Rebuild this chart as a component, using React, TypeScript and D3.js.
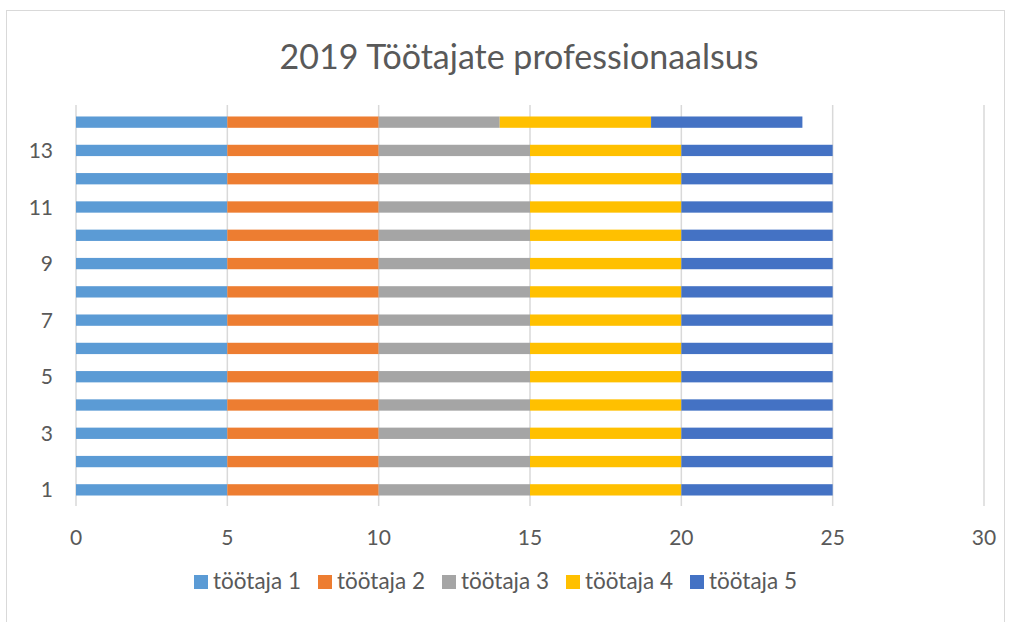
import React, { useEffect, useRef } from "react";
import * as d3 from "d3";

const CATEGORIES = ["1", "2", "3", "4", "5", "6", "7", "8", "9", "10", "11", "12", "13", "14"];
const SERIES = ["töötaja 1", "töötaja 2", "töötaja 3", "töötaja 4", "töötaja 5"];
const COLORS = ["#5B9BD5", "#ED7D31", "#A5A5A5", "#FFC000", "#4472C4"];
// values per category, one column per employee
const T1 = [5, 5, 5, 5, 5, 5, 5, 5, 5, 5, 5, 5, 5, 5];
const T2 = [5, 5, 5, 5, 5, 5, 5, 5, 5, 5, 5, 5, 5, 5];
const T3 = [5, 5, 5, 5, 5, 5, 5, 5, 5, 5, 5, 5, 5, 4];
const T4 = [5, 5, 5, 5, 5, 5, 5, 5, 5, 5, 5, 5, 5, 5];
const T5 = [5, 5, 5, 5, 5, 5, 5, 5, 5, 5, 5, 5, 5, 5];
const X_TICKS = [0, 5, 10, 15, 20, 25, 30];

const FONT = "Lato, 'Open Sans', sans-serif";
const TEXT = "#595959";

export default function App() {
  const ref = useRef<SVGSVGElement | null>(null);

  useEffect(() => {
    const svg = d3.select(ref.current);
    svg.selectAll("*").remove();

    // chart frame
    svg.append("rect").attr("x", 6.5).attr("y", 10.5).attr("width", 998).attr("height", 640)
      .attr("fill", "#fff").attr("stroke", "#D9D9D9");

    svg.append("text").attr("x", 519).attr("y", 69).attr("text-anchor", "middle")
      .attr("font-family", FONT).attr("font-size", 34).attr("fill", TEXT)
      .text("2019 Töötajate professionaalsus");

    const x = d3.scaleLinear().domain([0, 30]).range([76, 984]);
    const y = d3.scaleBand<string>().domain([...CATEGORIES].reverse()).range([108, 504]).paddingInner(0.6).paddingOuter(0.3);

    const rows = CATEGORIES.map((c, i) => {
      const r: any = { cat: c };
      [T1, T2, T3, T4, T5].forEach((arr, k) => { r[SERIES[k]] = arr[i]; });
      return r;
    });
    const stacked = d3.stack<any>().keys(SERIES)(rows);

    // gridlines
    svg.append("g").selectAll("line").data(X_TICKS).enter().append("line")
      .attr("x1", (d) => x(d)).attr("x2", (d) => x(d))
      .attr("y1", 105).attr("y2", 506)
      .attr("stroke", "#D9D9D9").attr("stroke-width", 1.5);

    svg.append("g").selectAll("g").data(stacked).enter().append("g")
      .attr("fill", (_, i) => COLORS[i])
      .selectAll("rect").data((d) => d).enter().append("rect")
      .attr("x", (d) => x(d[0]))
      .attr("width", (d) => x(d[1]) - x(d[0]))
      .attr("y", (d) => y(d.data.cat)!)
      .attr("height", y.bandwidth());

    // y labels (every other)
    svg.append("g").selectAll("text").data(CATEGORIES.filter((_, i) => i % 2 === 0)).enter().append("text")
      .attr("x", 53).attr("y", (d) => y(d)! + y.bandwidth() / 2).attr("dy", "0.36em")
      .attr("text-anchor", "end").attr("font-family", FONT).attr("font-size", 21).attr("fill", TEXT)
      .text((d) => d);

    // x labels
    svg.append("g").selectAll("text").data(X_TICKS).enter().append("text")
      .attr("x", (d) => x(d)).attr("y", 545).attr("text-anchor", "middle")
      .attr("font-family", FONT).attr("font-size", 21).attr("fill", TEXT)
      .text((d) => String(d));

    // legend
    const lg = svg.append("g").selectAll("g").data(SERIES).enter().append("g")
      .attr("transform", (_, i) => `translate(${194 + i * 124},575)`);
    lg.append("rect").attr("width", 14).attr("height", 14).attr("fill", (_, i) => COLORS[i]);
    lg.append("text").attr("x", 19).attr("y", 14)
      .attr("font-family", FONT).attr("font-size", 22.5).attr("fill", TEXT)
      .text((d) => d);
  }, []);

  return (
    <svg ref={ref} width={1010} height={622} style={{ position: "absolute", left: 0, top: 0, background: "#fff" }} />
  );
}
